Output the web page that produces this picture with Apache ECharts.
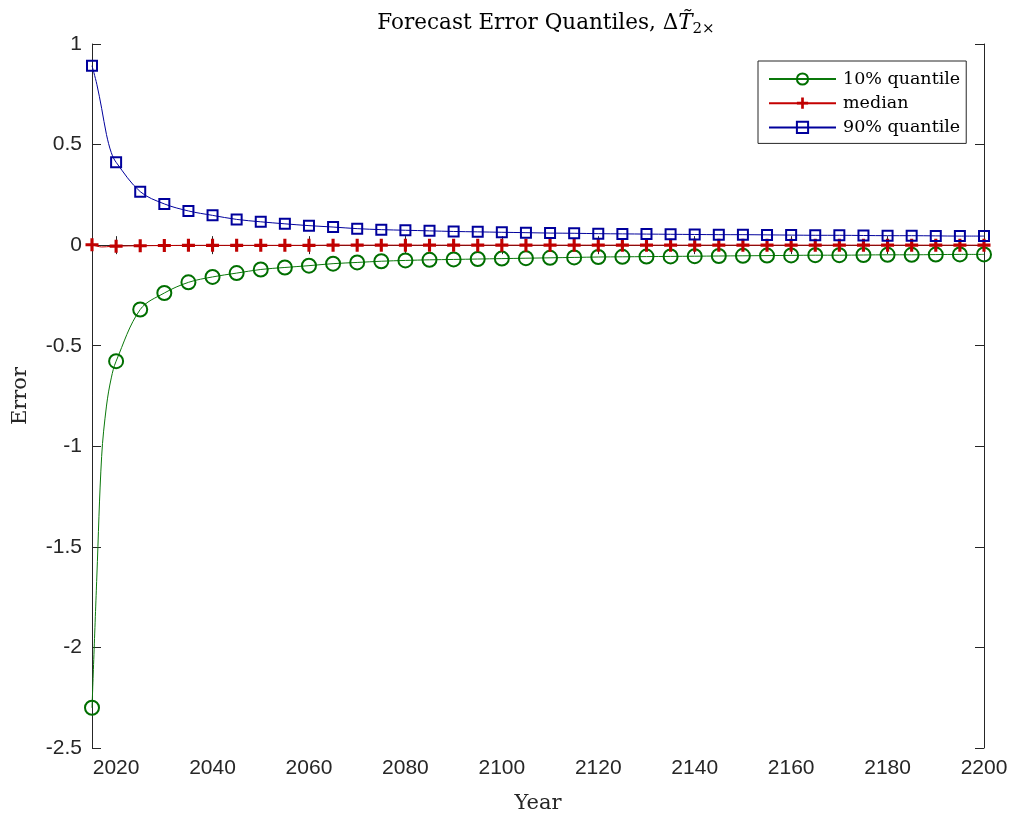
<!DOCTYPE html>
<html>
<head>
<meta charset="utf-8">
<script src="https://cdn.jsdelivr.net/npm/echarts@6/dist/echarts.min.js"></script>
<style>
  html, body { margin: 0; padding: 0; background: #fff; }
  #chart { width: 1009px; height: 814px; }
</style>
</head>
<body>
<div id="chart"></div>
<script>
// marker years, every 5 years
var years = [2015, 2020, 2025, 2030, 2035, 2040, 2045, 2050, 2055, 2060,
    2065, 2070, 2075, 2080, 2085, 2090, 2095, 2100, 2105, 2110,
    2115, 2120, 2125, 2130, 2135, 2140, 2145, 2150, 2155, 2160,
    2165, 2170, 2175, 2180, 2185, 2190, 2195, 2200]
var q10 = [-2.30, -0.577, -0.32, -0.238, -0.185, -0.158, -0.139, -0.121, -0.111, -0.102,
    -0.092, -0.086, -0.080, -0.076, -0.073, -0.071, -0.069, -0.067, -0.065, -0.063,
    -0.061, -0.059, -0.058, -0.057, -0.056, -0.055, -0.054, -0.053, -0.052, -0.051,
    -0.050, -0.050, -0.049, -0.048, -0.048, -0.047, -0.046, -0.046]
var median = [0.002, -0.005, -0.003, -0.002, -0.001, -0.001, -0.001, -0.001, -0.001, -0.001,
    0, 0, 0, 0, 0, 0, 0, 0, 0, 0,
    0, 0, 0, 0, 0, 0, 0, 0, 0, 0,
    0, 0, 0, 0, 0, 0, 0, 0]
var q90 = [0.892, 0.412, 0.266, 0.205, 0.170, 0.148, 0.128, 0.116, 0.106, 0.097,
    0.090, 0.082, 0.077, 0.074, 0.071, 0.068, 0.066, 0.064, 0.062, 0.060,
    0.059, 0.057, 0.056, 0.055, 0.054, 0.053, 0.052, 0.052, 0.051, 0.050,
    0.049, 0.049, 0.048, 0.047, 0.047, 0.046, 0.045, 0.045]
// points read off the curves between the first two markers (no marker drawn)
var detailYears = [2016, 2017, 2018, 2019]
var q10Detail = [-1.65, -1.05, -0.80, -0.66]
var medianDetail = [-0.005, -0.009, -0.008, -0.006]
var q90Detail = [0.80, 0.68, 0.55, 0.46]
var xTicks = [2020, 2040, 2060, 2080, 2100, 2120, 2140, 2160, 2180, 2200]
var yTicks = [-2.5, -2, -1.5, -1, -0.5, 0, 0.5, 1]

var axisColor = '#262626'
var serif = 'DejaVu Serif'
var sans = 'Liberation Sans'

function buildData(values, detail) {
    var out = []
    for (var i = 0; i < years.length; i++) {
        out.push({ value: [years[i], values[i]] })
    }
    for (var j = 0; j < detailYears.length; j++) {
        out.push({ value: [detailYears[j], detail[j]], symbol: 'none' })
    }
    out.sort(function(a, b) { return a.value[0] - b.value[0] })
    return out
}

var plusPath = 'path://M3.8,0 H6.2 V3.8 H10 V6.2 H6.2 V10 H3.8 V6.2 H0 V3.8 H3.8 Z'

var chart = echarts.init(document.getElementById('chart'))
var option = {
    animation: false,
    title: {
        text: '{a|Forecast Error Quantiles, Δ}{t|T\u0303}{s|2×}',
        left: 541,
        textAlign: 'center',
        top: 4,
        textStyle: {
            fontWeight: 'normal',
            rich: {
                a: { fontFamily: serif, fontSize: 21.5, fontWeight: 'normal', color: '#000', lineHeight: 28 },
                t: { fontFamily: serif, fontSize: 21.5, fontWeight: 'normal', fontStyle: 'italic', color: '#000', lineHeight: 28 },
                s: { fontFamily: serif, fontSize: 15, fontWeight: 'normal', color: '#000', lineHeight: 28, verticalAlign: 'bottom', padding: [8, 0, 0, 0] },
            },
        },
    },
    legend: {
        orient: 'vertical',
        left: 758,
        top: 61,
        padding: [9, 6, 7, 10],
        itemWidth: 67,
        itemHeight: 14,
        itemGap: 6.2,
        borderColor: axisColor,
        borderWidth: 1,
        backgroundColor: '#fff',
        textStyle: { fontFamily: serif, fontSize: 17.5, color: '#000', padding: [0, 0, 0, 2] },
        data: ['10% quantile', 'median', '90% quantile'],
    },
    grid: { left: 92, right: 25, top: 44, bottom: 66, containLabel: false, outerBoundsMode: 'none' },
    xAxis: [
        {
            type: 'value',
            min: 2015,
            max: 2200,
            name: 'Year',
            nameLocation: 'middle',
            nameGap: 45,
            nameTextStyle: { fontFamily: serif, fontSize: 21, color: '#262626' },
            axisLine: { show: true, lineStyle: { color: axisColor, width: 1 } },
            axisTick: { show: true, inside: true, length: 9, customValues: xTicks, lineStyle: { color: axisColor } },
            axisLabel: {
                customValues: xTicks,
                fontFamily: sans,
                fontSize: 21,
                color: '#262626',
                margin: 10,
                formatter: function(v) { return String(v) },
            },
            splitLine: { show: false },
        },
        {
            type: 'value',
            position: 'top',
            min: 2015,
            max: 2200,
            axisLine: { show: true, lineStyle: { color: axisColor, width: 1 } },
            axisTick: { show: true, inside: true, length: 9, customValues: xTicks, lineStyle: { color: axisColor } },
            axisLabel: { show: false },
            splitLine: { show: false },
        },
    ],
    yAxis: [
        {
            type: 'value',
            min: -2.5,
            max: 1,
            interval: 0.5,
            name: 'Error',
            nameLocation: 'middle',
            nameGap: 61,
            nameRotate: 90,
            nameTextStyle: { fontFamily: serif, fontSize: 21, color: '#262626' },
            axisLine: { show: true, lineStyle: { color: axisColor, width: 1 } },
            axisTick: { show: true, inside: true, length: 9, customValues: yTicks, lineStyle: { color: axisColor } },
            axisLabel: { customValues: yTicks, fontFamily: sans, fontSize: 21, color: '#262626', margin: 10 },
            splitLine: { show: false },
        },
        {
            type: 'value',
            position: 'right',
            min: -2.5,
            max: 1,
            interval: 0.5,
            axisLine: { show: true, lineStyle: { color: axisColor, width: 1 } },
            axisTick: { show: true, inside: true, length: 9, customValues: yTicks, lineStyle: { color: axisColor } },
            axisLabel: { show: false },
            splitLine: { show: false },
        },
    ],
    series: [
        {
            name: '10% quantile',
            type: 'line',
            data: buildData(q10, q10Detail),
            smooth: 0.35,
            symbol: 'circle',
            symbolSize: 14,
            showAllSymbol: true,
            lineStyle: { color: '#0a780a', width: 1 },
            itemStyle: { color: 'rgba(0,0,0,0)', borderColor: '#006f00', borderWidth: 2 },
            z: 3,
        },
        {
            name: 'median',
            type: 'line',
            data: buildData(median, medianDetail),
            smooth: 0.35,
            symbol: plusPath,
            symbolSize: 13,
            showAllSymbol: true,
            lineStyle: { color: '#c40000', width: 1 },
            itemStyle: { color: '#c00000', borderWidth: 0 },
            z: 4,
        },
        {
            name: '90% quantile',
            type: 'line',
            data: buildData(q90, q90Detail),
            smooth: 0.35,
            symbol: 'rect',
            symbolSize: 10,
            showAllSymbol: true,
            lineStyle: { color: '#00009c', width: 1 },
            itemStyle: { color: 'rgba(0,0,0,0)', borderColor: '#00009c', borderWidth: 2 },
            z: 5,
        },
    ],
}
chart.setOption(option)
</script>
</body>
</html>
